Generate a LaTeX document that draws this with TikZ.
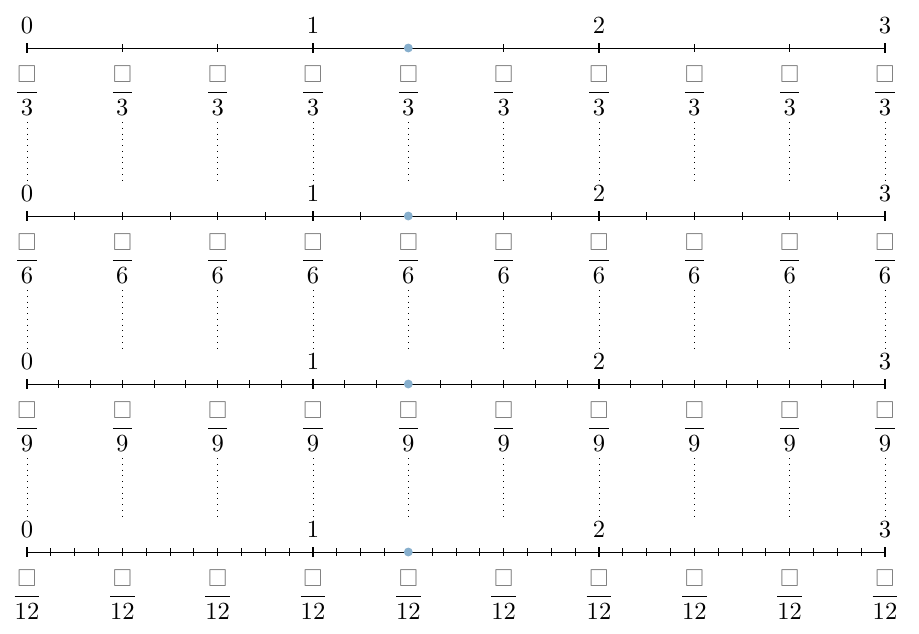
\documentclass[tikz,border=0pt]{standalone}
\usepackage{amssymb}
\usepackage{amsmath}
\definecolor{dotblue}{RGB}{135,175,205}
\begin{document}
\begin{tikzpicture}[x=0.4066pt,y=-0.4066pt,
  axisline/.style={line width=0.4pt},
  tk/.style={line width=0.4pt},
  inttk/.style={line width=0.9pt},
  fraclab/.style={anchor=north, inner sep=0pt},
  intlab/.style={anchor=south, inner sep=0pt},
  guide/.style={dotted, line width=0.35pt},
  markdot/.style={circle, fill=dotblue, draw=none, inner sep=0pt, minimum size=3.6pt}]
\useasboundingbox (0,0) rectangle (919,633);
\foreach \r/\n in {0/3,1/6,2/9,3/12}{
  \pgfmathsetmacro{\yy}{48+168*\r}
  \coordinate (s\r) at (27,\yy);
  \coordinate (e\r) at (885,\yy);
  \draw[axisline] (s\r) -- (e\r);
  \pgfmathtruncatemacro{\m}{3*\n}
  \pgfmathsetmacro{\stp}{858/\m}
  \foreach \i in {0,...,\m}{
    \pgfmathsetmacro{\xx}{27+\stp*\i}
    \coordinate (ta\r-\i) at (\xx,\yy-4);
    \coordinate (tb\r-\i) at (\xx,\yy+4);
    \draw[tk] (ta\r-\i) -- (tb\r-\i);
  }
  \foreach \j in {0,1,2,3}{
    \pgfmathsetmacro{\xx}{27+286*\j}
    \coordinate (ia\r-\j) at (\xx,\yy-5);
    \coordinate (ib\r-\j) at (\xx,\yy+5);
    \draw[inttk] (ia\r-\j) -- (ib\r-\j);
    \node[intlab] (int\r-\j) at (\xx,\yy-14) {$\j$};
  }
  \foreach \k in {0,...,9}{
    \pgfmathsetmacro{\xx}{27+95.3333*\k}
    \node[fraclab] (f\r-\k) at (\xx,\yy+17) {$\dfrac{\textcolor{gray}{\square}}{\n}$};
  }
  \node[markdot] (dot\r) at (408.3,\yy) {};
}
\foreach \r in {0,1,2}{
  \pgfmathsetmacro{\yy}{48+168*\r}
  \foreach \k in {0,...,9}{
    \pgfmathsetmacro{\xx}{27+95.3333*\k}
    \coordinate (ga\r-\k) at (\xx,\yy+74);
    \coordinate (gb\r-\k) at (\xx,\yy+136);
    \draw[guide] (ga\r-\k) -- (gb\r-\k);
  }
}
\end{tikzpicture}
\end{document}
